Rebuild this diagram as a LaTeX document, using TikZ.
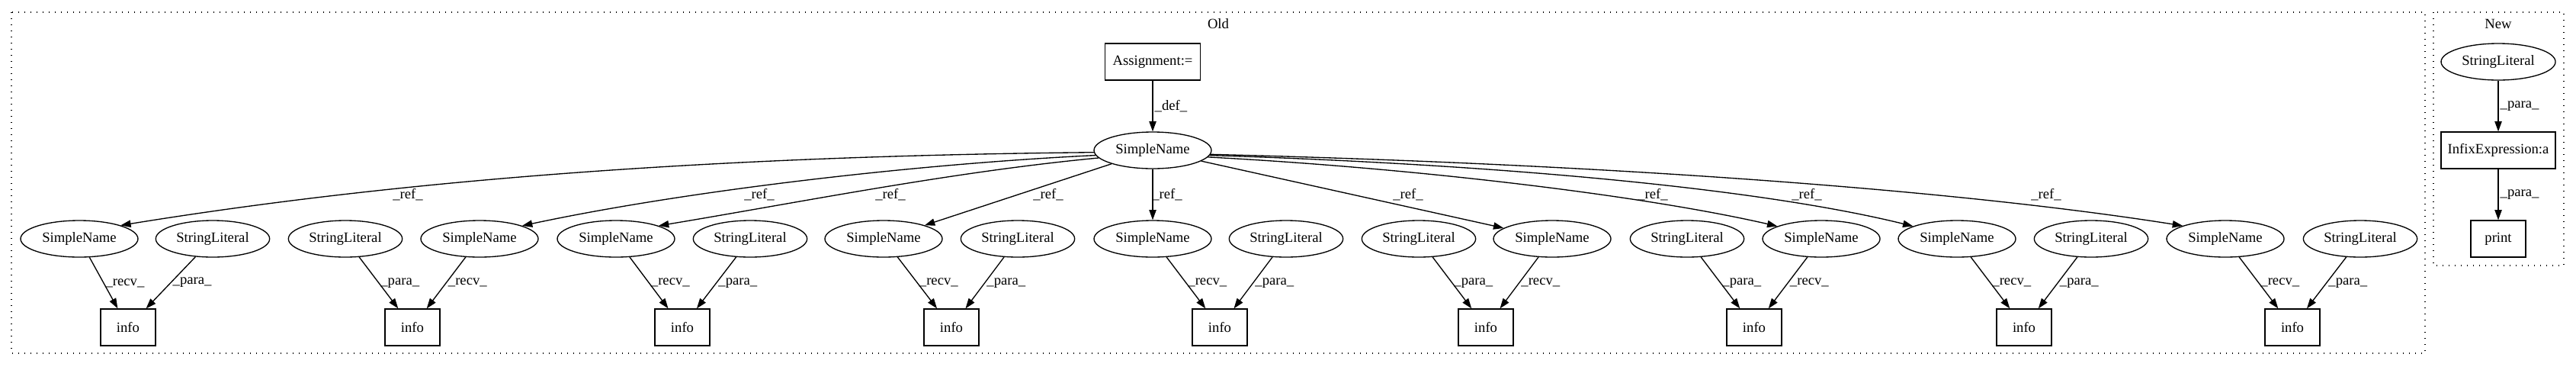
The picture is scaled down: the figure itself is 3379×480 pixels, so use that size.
\documentclass[tikz,border=0pt]{standalone}
\usepackage{fontspec}
\setmainfont{Liberation Serif}
\usetikzlibrary{shapes.geometric,arrows.meta}
\begin{document}
\begin{tikzpicture}[x=0.75pt,y=-0.75pt,
  every node/.style={font=\fontsize{14pt}{16pt}\selectfont},
  ell/.style={draw, ellipse, line width=1pt, minimum height=36pt, inner sep=0pt},
  sn/.style={ell, minimum width=115.5pt},
  sl/.style={ell, minimum width=112pt},
  box/.style={draw, rectangle, line width=1pt, minimum height=36pt, minimum width=54pt, inner sep=0pt},
  arr/.style={line width=1pt, -{Triangle[length=10pt,width=7pt]}},
  lbl/.style={inner sep=1.5pt, anchor=west},
  reflbl/.style={inner sep=0pt},
  clus/.style={line width=1pt, dash pattern=on 1pt off 5pt}
]
\useasboundingbox (0,0) rectangle (3379,480);

% clusters
\draw[clus] (15,16) rectangle (3181,463);
\draw[clus] (3192,16) rectangle (3363,348);
\node (oldlbl) at (1598,31) {Old};
\node (newlbl) at (3277,31) {New};

% Old
\node[box, minimum width=94pt] (asg) at (1512,81) {Assignment:=};
\node[sn] (top) at (1512,197) {SimpleName};

\node[sn] (sn1) at (104,313) {SimpleName};
\node[sl] (sl1) at (279,313) {StringLiteral};
\node[box] (i1) at (168,429) {info};

\node[sl] (sl2) at (453,313) {StringLiteral};
\node[sn] (sn2) at (629,313) {SimpleName};
\node[box] (i2) at (541,429) {info};

\node[sn] (sn3) at (808,313) {SimpleName};
\node[sl] (sl3) at (984,313) {StringLiteral};
\node[box] (i3) at (895,429) {info};

\node[sn] (sn4) at (1159,313) {SimpleName};
\node[sl] (sl4) at (1335,313) {StringLiteral};
\node[box] (i4) at (1248,429) {info};

\node[sn] (sn5) at (1512,313) {SimpleName};
\node[sl] (sl5) at (1687,313) {StringLiteral};
\node[box] (i5) at (1600,429) {info};

\node[sl] (sl6) at (1861,313) {StringLiteral};
\node[sn] (sn6) at (2036,313) {SimpleName};
\node[box] (i6) at (1949,429) {info};

\node[sl] (sl7) at (2213,313) {StringLiteral};
\node[sn] (sn7) at (2389,313) {SimpleName};
\node[box] (i7) at (2301,429) {info};

\node[sn] (sn8) at (2567,313) {SimpleName};
\node[sl] (sl8) at (2743,313) {StringLiteral};
\node[box] (i8) at (2655,429) {info};

\node[sn] (sn9) at (2919,313) {SimpleName};
\node[sl] (sl9) at (3096,313) {StringLiteral};
\node[box] (i9) at (3007,429) {info};

\draw[arr] (asg) -- node[lbl,midway]{\_def\_} (top);

% ref edges
\draw[arr] (top.182) .. controls (900,205) and (500,240) .. (sn1.18);
\draw[arr] (top.185) .. controls (1200,215) and (900,250) .. (sn2.17);
\draw[arr] (top.188) .. controls (1250,225) and (1050,265) .. (sn3.17);
\draw[arr] (top) -- (sn4);
\draw[arr] (top) -- (sn5);
\draw[arr] (top) -- (sn6);
\draw[arr] (top.-7) .. controls (1850,220) and (2150,255) .. (sn7.164);
\draw[arr] (top.-5) .. controls (1950,215) and (2300,245) .. (sn8.164);
\draw[arr] (top.-4) .. controls (2100,215) and (2560,248) .. (sn9.163);

\node[reflbl] (r1) at (535,255) {\_ref\_};
\node[reflbl] (r2) at (996,255) {\_ref\_};
\node[reflbl] (r3) at (1168,255) {\_ref\_};
\node[reflbl] (r4) at (1375,255) {\_ref\_};
\node[reflbl] (r5) at (1531,255) {\_ref\_};
\node[reflbl] (r6) at (1847,255) {\_ref\_};
\node[reflbl] (r7) at (2168,255) {\_ref\_};
\node[reflbl] (r8) at (2370,255) {\_ref\_};
\node[reflbl] (r9) at (2684,255) {\_ref\_};

% recv / para edges
\foreach \k in {1,...,9}{
  \draw[arr] (sn\k) -- node[lbl,midway]{\_recv\_} (i\k);
  \draw[arr] (sl\k) -- node[lbl,midway]{\_para\_} (i\k);
}

% New
\node[ell, minimum width=112.5pt] (nsl) at (3277,81) {StringLiteral};
\node[box, minimum width=112.5pt] (infx) at (3277,197) {InfixExpression:a};
\node[box] (prn) at (3277,313) {print};
\draw[arr] (nsl) -- node[lbl,midway]{\_para\_} (infx);
\draw[arr] (infx) -- node[lbl,midway]{\_para\_} (prn);
\end{tikzpicture}
\end{document}
